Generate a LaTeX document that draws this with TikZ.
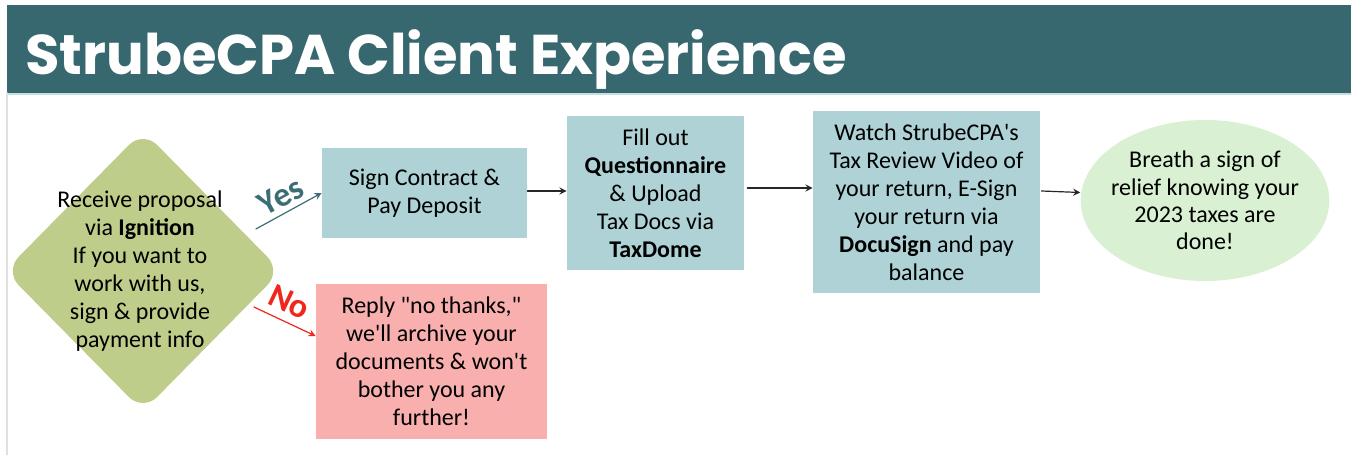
\documentclass[tikz,border=0pt]{standalone}
\usepackage{fontspec}
\setmainfont{Carlito}
\newfontfamily\headfont{Poppins}
\usetikzlibrary{shapes.geometric}
\definecolor{headteal}{RGB}{55,104,112}
\definecolor{stepblue}{RGB}{174,210,214}
\definecolor{offergreen}{RGB}{191,205,139}
\definecolor{declinepink}{RGB}{248,175,174}
\definecolor{donegreen}{RGB}{217,240,211}
\definecolor{yesteal}{RGB}{58,110,118}
\definecolor{nored}{RGB}{240,38,28}
\begin{document}
\begin{tikzpicture}[x=0.5pt,y=0.5pt,>=stealth,line join=round,line cap=round,
		font=\fontsize{12}{14}\selectfont,
		stepbox/.style={fill=stepblue,align=center,inner sep=0pt},
		decision/.style={diamond,fill=offergreen,rounded corners=10pt,inner sep=0pt,minimum width=138.5pt,minimum height=140.5pt},
		answer/.style={midway,sloped,inner sep=1pt,font=\fontsize{17}{17}\bfseries\selectfont},
		flow/.style={->,line width=0.6pt,black!85}]
		\useasboundingbox (0,0) rectangle (1351,455);
		% header band
		\fill[headteal] (7,362) rectangle (1351,450);
		\fill[stepblue!70] (7,359.5) rectangle (1351,362);
		\draw[black!12,line width=1pt] (6.5,0) -- (6.5,362);
		\node[anchor=base west,inner sep=0pt,text=white,font=\headfont\fontsize{28}{28}\bfseries\selectfont] (title) at (25,380) {StrubeCPA Client Experience};
		% decision
		\node[decision] (offer) at (143,184) {};
		\node[align=center] (offertext) at (140,184) {Receive proposal\\via \textbf{Ignition}\\If you want to\\work with us,\\sign \& provide\\payment info};
		% steps
		\node[stepbox,minimum width=102.5pt,minimum height=45pt] (sign) at (424.5,262) {Sign Contract \&\\Pay Deposit};
		\node[stepbox,minimum width=88.5pt,minimum height=77pt] (upload) at (655.5,262) {Fill out\\\textbf{Questionnaire}\\\& Upload\\Tax Docs via\\\textbf{TaxDome}};
		\node[stepbox,minimum width=113.5pt,minimum height=91pt] (review) at (926.5,253) {Watch StrubeCPA\textquotesingle s\\Tax Review Video of\\your return, E-Sign\\your return via\\\textbf{DocuSign} and pay\\balance};
		\node[ellipse,fill=donegreen,align=center,inner xsep=-3pt,inner ysep=0pt,minimum width=124pt,minimum height=80.5pt,font=\fontsize{12}{13.7}\selectfont] (done) at (1205,254.5) {Breath a sign of\\relief knowing your\\2023 taxes are\\done!};
		\node[stepbox,fill=declinepink,minimum width=115.5pt,minimum height=77.5pt] (decline) at (431.5,93.5) {Reply \textquotedbl no thanks,\textquotedbl\\we\textquotesingle ll archive your\\documents \& won\textquotesingle t\\bother you any\\further!};
		% connectors
		\draw[->,yesteal,line width=0.6pt] ([shift={(-26,42)}]offer.east) -- (sign.west)
			node[answer,above=1.5pt] {Yes};
		\draw[->,nored,line width=0.6pt] ([shift={(-28,-36)}]offer.east) -- ([yshift=12.75pt]decline.west)
			node[answer,above=3pt,xshift=-2pt] {No};
		\draw[flow] ([yshift=1pt]sign.east) -- ([yshift=1pt]upload.west);
		\draw[flow] ([xshift=1.5pt,yshift=2.5pt]upload.east) -- ([yshift=7pt]review.west);
		\draw[flow] ([xshift=0.5pt,yshift=5.5pt]review.east) -- ([yshift=4pt]done.west);
		\end{tikzpicture}
\end{document}
